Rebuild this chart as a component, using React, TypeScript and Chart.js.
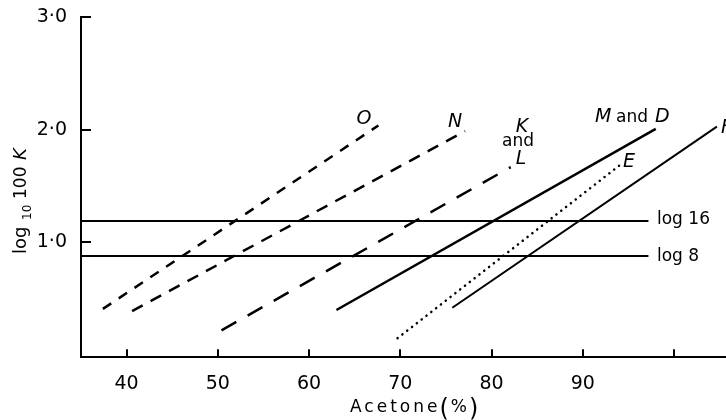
import React, { useEffect, useRef } from 'react';
import { Chart, registerables } from 'chart.js';

Chart.register(...registerables);

// ---- Data ----
const xTicks = [40, 50, 60, 70, 80, 90, 100];
const xTickLabels = ['40', '50', '60', '70', '80', '90', ''];
const yTicks = [1, 2, 3];
const yTickLabels = ['1·0', '2·0', '3·0'];

const lineO_x = [37.4, 67.6];
const lineO_y = [0.41, 2.04];
const lineN_x = [40.6, 77.1];
const lineN_y = [0.39, 1.99];
const lineKL_x = [50.4, 82.1];
const lineKL_y = [0.22, 1.67];
const lineMD_x = [63.0, 98.0];
const lineMD_y = [0.40, 2.01];
const lineE_x = [69.7, 94.1];
const lineE_y = [0.15, 1.69];
const lineF_x = [75.7, 104.7];
const lineF_y = [0.42, 2.03];
const log16_x = [35, 97.2];
const log16_y = [1.19, 1.19];
const log8_x = [35, 97.2];
const log8_y = [0.88, 0.88];

const pts = (xs: number[], ys: number[]) => xs.map((x, i) => ({ x, y: ys[i] }));

const FONT = 'DejaVu Sans';

const ds = (xs: number[], ys: number[], width: number, dash: number[] = []) => ({
  data: pts(xs, ys),
  borderColor: '#000',
  borderWidth: width,
  borderDash: dash,
  borderCapStyle: dash.length && dash[0] <= 2 ? 'round' : 'butt',
  pointRadius: 0,
  fill: false,
  tension: 0,
});

const decorPlugin = {
  id: 'decor',
  afterDraw(chart: any) {
    const { ctx, chartArea } = chart;
    const xs = chart.scales.x;
    const ys = chart.scales.y;
    ctx.save();
    // inward tick marks
    ctx.strokeStyle = '#000';
    ctx.lineWidth = 2;
    xTicks.forEach((v) => {
      const px = Math.round(xs.getPixelForValue(v));
      ctx.beginPath();
      ctx.moveTo(px, chartArea.bottom);
      ctx.lineTo(px, chartArea.bottom - 8);
      ctx.stroke();
    });
    yTicks.forEach((v) => {
      const py = Math.round(ys.getPixelForValue(v));
      ctx.beginPath();
      ctx.moveTo(chartArea.left, py);
      ctx.lineTo(chartArea.left + 10, py);
      ctx.stroke();
    });

    ctx.fillStyle = '#000';
    ctx.textBaseline = 'middle';
    ctx.textAlign = 'center';
    const it = (s: number) => `italic ${s}px "${FONT}"`;
    const up = (s: number) => `${s}px "${FONT}"`;
    // curve labels
    ctx.font = it(19);
    ctx.fillText('O', 364, 119);
    ctx.fillText('N', 455, 122);
    ctx.fillText('K', 522, 127);
    ctx.font = up(17);
    ctx.fillText('and', 518, 142);
    ctx.font = it(19);
    ctx.fillText('L', 521, 159);
    ctx.fillText('E', 629, 162);
    ctx.textAlign = 'left';
    ctx.fillText('M', 595, 117);
    ctx.font = up(17);
    ctx.fillText('and', 616, 118);
    ctx.font = it(19);
    ctx.fillText('D', 655, 117);
    ctx.fillText('F', 721, 128);
    // horizontal line labels
    ctx.font = up(17);
    ctx.fillText('log 16', 657, 220);
    ctx.fillText('log 8', 657, 257);

    // x title
    ctx.textBaseline = 'alphabetic';
    let x = 350;
    const base = 412;
    (ctx as any).letterSpacing = '3px';
    ctx.font = up(17);
    ctx.fillText('Acetone', x, base);
    x += ctx.measureText('Acetone').width - 1;
    (ctx as any).letterSpacing = '0px';
    ctx.font = `24px "${FONT}"`;
    ctx.fillText('(', x, base + 4);
    x += ctx.measureText('(').width + 2;
    ctx.font = up(17);
    ctx.fillText('%', x, base);
    x += ctx.measureText('%').width + 2;
    ctx.font = `24px "${FONT}"`;
    ctx.fillText(')', x, base + 4);

    // y title (rotated)
    ctx.save();
    ctx.translate(26, 0);
    ctx.rotate(-Math.PI / 2);
    ctx.font = up(18);
    ctx.fillText('log', -254, 0);
    ctx.font = up(12);
    ctx.fillText('10', -220, 5);
    ctx.font = up(17);
    ctx.fillText('100', -199, 0);
    ctx.font = it(18);
    ctx.fillText('K', -160, 0);
    ctx.restore();

    ctx.restore();
  },
};

export default function App() {
  const ref = useRef<HTMLCanvasElement>(null);
  useEffect(() => {
    if (!ref.current) return;
    const chart = new Chart(ref.current, {
      type: 'line',
      data: {
        datasets: [
          ds(log16_x, log16_y, 2),
          ds(log8_x, log8_y, 2),
          ds(lineO_x, lineO_y, 2.5, [10, 9]),
          ds(lineN_x, lineN_y, 2.5, [12, 9]),
          ds(lineKL_x, lineKL_y, 2.5, [17, 13]),
          ds(lineMD_x, lineMD_y, 2.5),
          ds(lineE_x, lineE_y, 2.5, [0.1, 6]),
          ds(lineF_x, lineF_y, 2),
        ] as any,
      },
      options: {
        animation: false,
        responsive: false,
        devicePixelRatio: 1,
        layout: { padding: { top: 16, left: 0, right: 0, bottom: 0 } },
        plugins: { legend: { display: false }, tooltip: { enabled: false } },
        scales: {
          x: {
            type: 'linear',
            min: 35,
            max: 105.7,
            grid: { display: false },
            border: { display: true, color: '#000', width: 2 },
            afterBuildTicks: (s: any) => {
              s.ticks = xTicks.map((v) => ({ value: v }));
            },
            afterFit: (s: any) => {
              s.height = 62.7;
            },
            ticks: {
              autoSkip: false,
              maxRotation: 0,
              padding: 7,
              color: '#000',
              font: { family: FONT, size: 19 },
              callback: (_v: any, i: number) => xTickLabels[i],
            },
          },
          y: {
            type: 'linear',
            min: -0.02,
            max: 3,
            grid: { display: false },
            border: { display: true, color: '#000', width: 2 },
            afterBuildTicks: (s: any) => {
              s.ticks = yTicks.map((v) => ({ value: v }));
            },
            afterFit: (s: any) => {
              s.width = 81;
            },
            ticks: {
              padding: 6,
              color: '#000',
              font: { family: FONT, size: 19 },
              callback: (_v: any, i: number) => yTickLabels[i],
            },
          },
        },
      },
      plugins: [decorPlugin],
    });
    return () => chart.destroy();
  }, []);
  return (
    <div style={{ position: 'fixed', left: 0, top: 0, width: 726, height: 420, background: '#fff' }}>
      <canvas ref={ref} width={726} height={420} />
    </div>
  );
}
